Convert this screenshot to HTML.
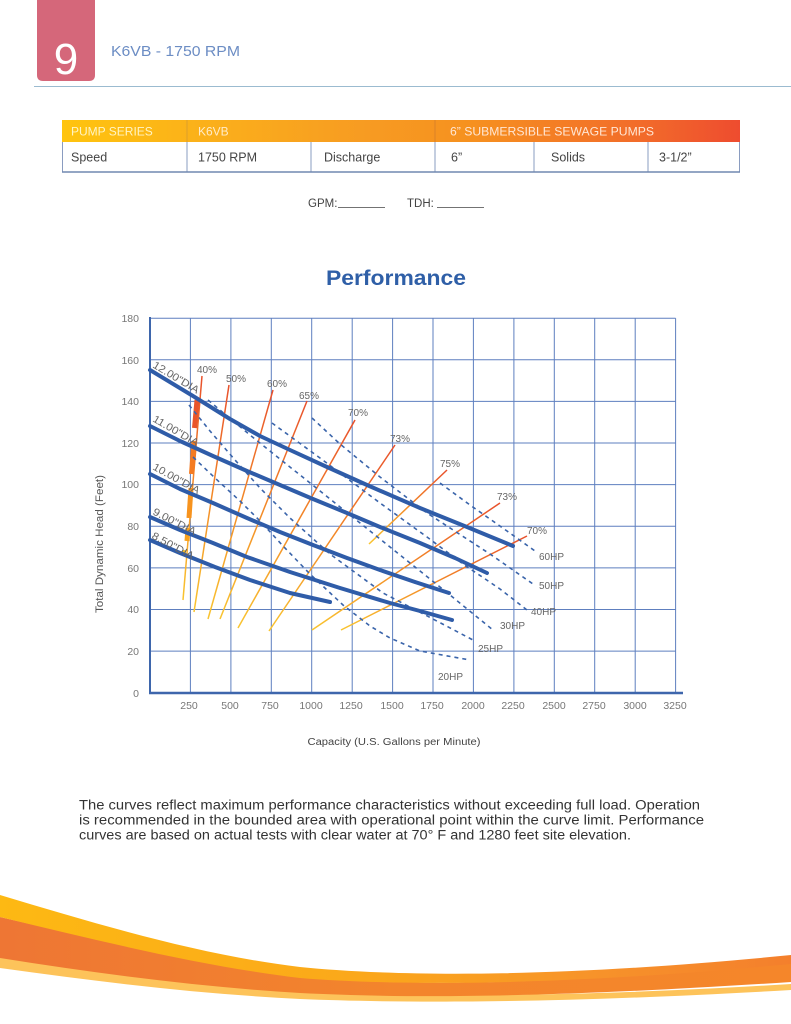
<!DOCTYPE html>
<html>
<head>
<meta charset="utf-8">
<style>
  html,body{margin:0;padding:0;background:#fff;}
  svg{display:block;}
  text{font-family:"Liberation Sans",sans-serif;}
</style>
</head>
<body>
<svg width="791" height="1024" viewBox="0 0 791 1024" xmlns="http://www.w3.org/2000/svg">
<defs>
  <linearGradient id="hdr" x1="62" y1="0" x2="740" y2="0" gradientUnits="userSpaceOnUse">
    <stop offset="0" stop-color="#FFC40E"/>
    <stop offset="0.2" stop-color="#FBB11A"/>
    <stop offset="0.45" stop-color="#F79B22"/>
    <stop offset="0.6" stop-color="#F6911F"/>
    <stop offset="0.85" stop-color="#F26C2A"/>
    <stop offset="1" stop-color="#EE4C2F"/>
  </linearGradient>
  <linearGradient id="eff" x1="0" y1="0" x2="0" y2="1">
    <stop offset="0" stop-color="#E8502C"/>
    <stop offset="0.5" stop-color="#F38A27"/>
    <stop offset="1" stop-color="#F9C530"/>
  </linearGradient>
  <linearGradient id="sw1" x1="0" y1="0" x2="791" y2="0" gradientUnits="userSpaceOnUse">
    <stop offset="0" stop-color="#FDB913"/>
    <stop offset="0.45" stop-color="#FBA81A"/>
    <stop offset="0.75" stop-color="#F7932A"/>
    <stop offset="1" stop-color="#F47F2C"/>
  </linearGradient>
  <linearGradient id="sw2" x1="0" y1="0" x2="791" y2="0" gradientUnits="userSpaceOnUse">
    <stop offset="0" stop-color="#EE7634"/>
    <stop offset="0.5" stop-color="#F3852C"/>
    <stop offset="1" stop-color="#F5862A"/>
  </linearGradient>
</defs>

<!-- Header -->
<path d="M37,0 H95 V75 Q95,81 89,81 H43 Q37,81 37,75 Z" fill="#D5677A"/>
<text x="66" y="74" font-size="44" fill="#ffffff" text-anchor="middle">9</text>
<text x="111" y="56" font-size="15" fill="#6C8DC4" textLength="129" lengthAdjust="spacingAndGlyphs">K6VB - 1750 RPM</text>
<line x1="34" y1="86.5" x2="791" y2="86.5" stroke="#9BBBD0" stroke-width="1"/>

<!-- Table -->
<rect x="62" y="120" width="678" height="22" fill="url(#hdr)"/>
<line x1="187" y1="120" x2="187" y2="142" stroke="#b98a40" stroke-opacity="0.45" stroke-width="1"/>
<line x1="435" y1="120" x2="435" y2="142" stroke="#b96a30" stroke-opacity="0.45" stroke-width="1"/>
<text x="71" y="135.5" font-size="12" fill="#FFF4C4">PUMP SERIES</text>
<text x="198" y="135.5" font-size="12" fill="#FFEBC8">K6VB</text>
<text x="450" y="135.5" font-size="12" fill="#FFE6D4" textLength="204" lengthAdjust="spacingAndGlyphs">6” SUBMERSIBLE SEWAGE PUMPS</text>
<g stroke="#8A9CC0" stroke-width="1" fill="none">
  <line x1="62.5" y1="142" x2="62.5" y2="172"/>
  <line x1="739.5" y1="142" x2="739.5" y2="172"/>
  <line x1="187" y1="142" x2="187" y2="172"/>
  <line x1="311" y1="142" x2="311" y2="172"/>
  <line x1="435" y1="142" x2="435" y2="172"/>
  <line x1="534" y1="142" x2="534" y2="172"/>
  <line x1="648" y1="142" x2="648" y2="172"/>
</g>
<line x1="62" y1="172" x2="740" y2="172" stroke="#7088B0" stroke-width="1.5"/>
<g font-size="12.5" fill="#444">
  <text x="71" y="161.5">Speed</text>
  <text x="198" y="161.5">1750 RPM</text>
  <text x="324" y="161.5">Discharge</text>
  <text x="451" y="161.5">6”</text>
  <text x="551" y="161.5">Solids</text>
  <text x="659" y="161.5">3-1/2”</text>
</g>

<!-- GPM TDH -->
<text x="308" y="207" font-size="11.5" fill="#444">GPM:</text>
<line x1="338" y1="207.5" x2="385" y2="207.5" stroke="#444" stroke-width="0.8"/>
<text x="407" y="207" font-size="11.5" fill="#444">TDH:</text>
<line x1="437" y1="207.5" x2="484" y2="207.5" stroke="#444" stroke-width="0.8"/>

<!-- Title -->
<text x="396" y="285" font-size="21" font-weight="bold" fill="#2F5FA7" text-anchor="middle" textLength="140" lengthAdjust="spacingAndGlyphs">Performance</text>

<!-- Grid -->
<g stroke="#5E7FBF" stroke-width="1" fill="none">
  <line x1="190.4" y1="318.2" x2="190.4" y2="693"/>
  <line x1="230.9" y1="318.2" x2="230.9" y2="693"/>
  <line x1="271.3" y1="318.2" x2="271.3" y2="693"/>
  <line x1="311.7" y1="318.2" x2="311.7" y2="693"/>
  <line x1="352.2" y1="318.2" x2="352.2" y2="693"/>
  <line x1="392.6" y1="318.2" x2="392.6" y2="693"/>
  <line x1="433.0" y1="318.2" x2="433.0" y2="693"/>
  <line x1="473.4" y1="318.2" x2="473.4" y2="693"/>
  <line x1="513.9" y1="318.2" x2="513.9" y2="693"/>
  <line x1="554.3" y1="318.2" x2="554.3" y2="693"/>
  <line x1="594.7" y1="318.2" x2="594.7" y2="693"/>
  <line x1="635.2" y1="318.2" x2="635.2" y2="693"/>
  <line x1="675.6" y1="318.2" x2="675.6" y2="693"/>
  <line x1="150" y1="318.2" x2="675.6" y2="318.2"/>
  <line x1="150" y1="359.8" x2="675.6" y2="359.8"/>
  <line x1="150" y1="401.4" x2="675.6" y2="401.4"/>
  <line x1="150" y1="443.0" x2="675.6" y2="443.0"/>
  <line x1="150" y1="484.6" x2="675.6" y2="484.6"/>
  <line x1="150" y1="526.3" x2="675.6" y2="526.3"/>
  <line x1="150" y1="567.9" x2="675.6" y2="567.9"/>
  <line x1="150" y1="609.5" x2="675.6" y2="609.5"/>
  <line x1="150" y1="651.1" x2="675.6" y2="651.1"/>
</g>
<line x1="150" y1="317" x2="150" y2="694" stroke="#3E66AC" stroke-width="2"/>
<line x1="149" y1="693" x2="683" y2="693" stroke="#3E66AC" stroke-width="2.5"/>

<!-- Y tick labels -->
<g font-size="10.5" fill="#777" text-anchor="end">
  <text x="139" y="322">180</text>
  <text x="139" y="364">160</text>
  <text x="139" y="405">140</text>
  <text x="139" y="447">120</text>
  <text x="139" y="488">100</text>
  <text x="139" y="530">80</text>
  <text x="139" y="572">60</text>
  <text x="139" y="613">40</text>
  <text x="139" y="655">20</text>
  <text x="139" y="697">0</text>
</g>
<!-- X tick labels -->
<g font-size="10.5" fill="#777" text-anchor="middle">
  <text x="189" y="709">250</text>
  <text x="230" y="709">500</text>
  <text x="270" y="709">750</text>
  <text x="311" y="709">1000</text>
  <text x="351" y="709">1250</text>
  <text x="392" y="709">1500</text>
  <text x="432" y="709">1750</text>
  <text x="473" y="709">2000</text>
  <text x="513" y="709">2250</text>
  <text x="554" y="709">2500</text>
  <text x="594" y="709">2750</text>
  <text x="635" y="709">3000</text>
  <text x="675" y="709">3250</text>
</g>
<text x="394" y="745" font-size="10" fill="#444" text-anchor="middle" textLength="173" lengthAdjust="spacingAndGlyphs">Capacity (U.S. Gallons per Minute)</text>
<text transform="translate(103,544) rotate(-90)" font-size="11" fill="#555" text-anchor="middle" textLength="138" lengthAdjust="spacingAndGlyphs">Total Dynamic Head (Feet)</text>

<!-- Efficiency lines -->
<g stroke="url(#eff)" stroke-width="1.5" fill="none">
  <line x1="202" y1="376" x2="183" y2="600"/>
  <line x1="229" y1="385" x2="194" y2="612"/>
  <line x1="273" y1="390" x2="208" y2="619"/>
  <line x1="307" y1="401" x2="220" y2="619"/>
  <line x1="355" y1="420" x2="238" y2="628"/>
  <line x1="395" y1="445" x2="269" y2="631"/>
  <line x1="447" y1="470" x2="369" y2="544"/>
  <line x1="500" y1="503" x2="312" y2="630"/>
  <line x1="527" y1="536" x2="341" y2="630"/>
</g>
<!-- thick segments -->
<g stroke-width="5" stroke-linecap="butt">
  <line x1="197" y1="400" x2="194.5" y2="428" stroke="#E9552B"/>
  <line x1="194" y1="441" x2="191.5" y2="474" stroke="#F47B22"/>
  <line x1="191" y1="488" x2="189" y2="518" stroke="#F7931E"/>
  <line x1="188" y1="528" x2="187" y2="541" stroke="#F9A11B"/>
</g>
<circle cx="184" cy="552" r="2" fill="#F6C02B"/>

<!-- HP dashed -->
<g stroke="#3A64AA" stroke-width="1.6" fill="none" stroke-dasharray="4 4" stroke-linejoin="round">
  <polyline points="193,457 215,478 240,501 262,523 283,546 310,574 343,605 370,626 390,638 420,651 470,660"/>
  <polyline points="189,405 210,431 235,460 260,488 290,518 330,554 383,593 433,619 473,640"/>
  <polyline points="208,400 250,435 300,475 350,515 400,555 450,595 493,630"/>
  <polyline points="272,423 320,458 380,503 427,537 463,564 500,589 527,610"/>
  <polyline points="312,418 340,444 380,477 427,513 490,554 533,584"/>
  <polyline points="440,483 470,505 507,531 535,551"/>
</g>

<!-- Impeller curves -->
<g stroke="#2F5CA8" stroke-width="4" fill="none" stroke-linejoin="round" stroke-linecap="round">
  <polyline points="150,370 193,396 230,419 260,436 290,450 327,467 367,485 420,508 467,527 513,546"/>
  <polyline points="150,426 180,441 213,456 247,471 280,485 313,499 347,513 380,527 420,543 455,558 487,573"/>
  <polyline points="150,474 180,489 213,503 247,518 280,532 313,545 347,558 380,570 415,582 449,593"/>
  <polyline points="150,517 180,530 213,543 247,557 290,572 340,588 390,603 420,611 452,620"/>
  <polyline points="150,540 180,553 215,567 250,580 290,593 330,602"/>
</g>

<!-- DIA labels -->
<g font-size="10.5" fill="#666">
  <text transform="translate(152,367) rotate(31)" textLength="52" lengthAdjust="spacingAndGlyphs">12.00"DIA</text>
  <text transform="translate(152,421) rotate(30)" textLength="51" lengthAdjust="spacingAndGlyphs">11.00"DIA</text>
  <text transform="translate(152,469) rotate(29)" textLength="52" lengthAdjust="spacingAndGlyphs">10.00"DIA</text>
  <text transform="translate(152,514) rotate(27)" textLength="47" lengthAdjust="spacingAndGlyphs">9.00"DIA</text>
  <text transform="translate(151,538) rotate(28)" textLength="46" lengthAdjust="spacingAndGlyphs">8.50"DIA</text>
</g>

<!-- Efficiency labels -->
<g font-size="10" fill="#666">
  <text x="197" y="373">40%</text>
  <text x="226" y="382">50%</text>
  <text x="267" y="387">60%</text>
  <text x="299" y="399">65%</text>
  <text x="348" y="416">70%</text>
  <text x="390" y="442">73%</text>
  <text x="440" y="467">75%</text>
  <text x="497" y="500">73%</text>
  <text x="527" y="534">70%</text>
</g>

<!-- HP labels -->
<g font-size="10" fill="#666">
  <text x="539" y="560">60HP</text>
  <text x="539" y="589">50HP</text>
  <text x="531" y="615">40HP</text>
  <text x="500" y="629">30HP</text>
  <text x="478" y="652">25HP</text>
  <text x="438" y="680">20HP</text>
</g>

<!-- Paragraph -->
<g font-size="13.5" fill="#333">
  <text x="79" y="809.5" textLength="621" lengthAdjust="spacingAndGlyphs">The curves reflect maximum performance characteristics without exceeding full load. Operation</text>
  <text x="79" y="824.5" textLength="625" lengthAdjust="spacingAndGlyphs">is recommended in the bounded area with operational point within the curve limit. Performance</text>
  <text x="79" y="839.5" textLength="552" lengthAdjust="spacingAndGlyphs">curves are based on actual tests with clear water at 70° F and 1280 feet site elevation.</text>
</g>

<!-- Footer swoosh -->
<path d="M0,955 C100,970 200,986 300,990 C400,996 550,999 791,984 L791,990 C550,1004 400,1003 300,999 C200,994 100,982 0,968 Z" fill="#FDC35A"/>
<path d="M0,917 C100,940 200,965 300,977 C400,986 560,987 791,960 L791,982 C560,997 420,999 300,993 C200,987 100,974 0,958 Z" fill="url(#sw2)"/>
<path d="M0,895 C100,925 200,955 300,967 C400,977 560,978 791,955 L791,964 C560,986 400,986 300,978 C200,966 100,941 0,917 Z" fill="url(#sw1)"/>
</svg>
</body>
</html>
